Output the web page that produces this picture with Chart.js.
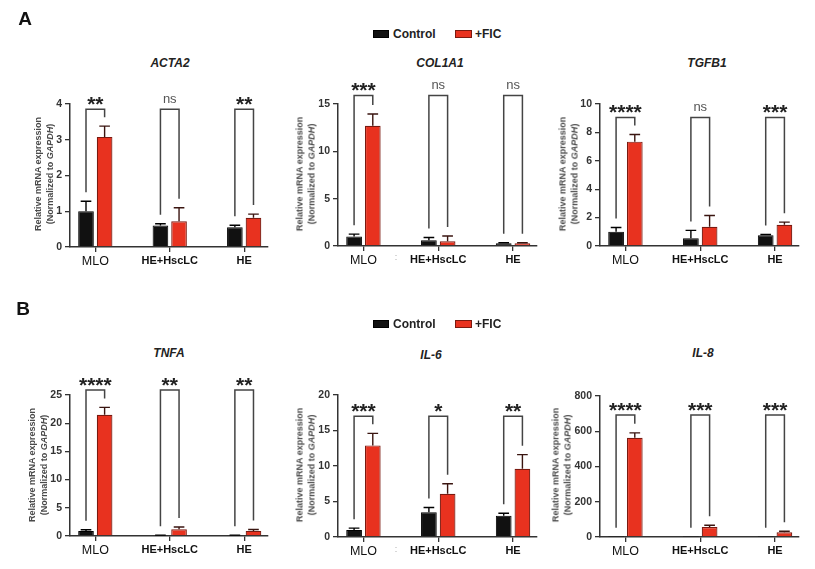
<!DOCTYPE html>
<html>
<head>
<meta charset="utf-8">
<script src="https://cdn.jsdelivr.net/npm/chart.js@4.4.1/dist/chart.umd.min.js"></script>
<style>
  body { margin: 0; background: #fff; }
  #page { position: relative; width: 815px; height: 569px; overflow: hidden; font-family: "Liberation Sans", Arial, sans-serif; }
  canvas { position: absolute; }
  .txt { position: absolute; transform: translate(-50%, -50%); line-height: 1; white-space: nowrap; }
  .letter { font-size: 19px; font-weight: bold; color: #111; }
  .gene { font-size: 12px; font-weight: bold; font-style: italic; color: #222; }
  .ytitle { position: absolute; transform: translate(-50%, -50%) rotate(-90deg); font-size: 9px; font-weight: bold; color: #4a4a4a; line-height: 11.5px; text-align: center; white-space: nowrap; }
  .legend { position: absolute; font-size: 12px; font-weight: bold; color: #222; line-height: 1; }
  .box { position: absolute; }
  .dots { font-size: 9px; color: #aaa; }
</style>
</head>
<body>
<div id="page"></div>
<script>
// groups on the x axis, shared by all six panels
const groups = ['MLO', 'HE+HscLC', 'HE'];
const seriesNames = ['Control', '+FIC'];

// ACTA2
const acta2Control = [1.0, 0.6, 0.55];
const acta2ControlErr = [0.28, 0.05, 0.06];
const acta2Fic = [3.08, 0.72, 0.82];
const acta2FicErr = [0.3, 0.38, 0.1];
const acta2Stars = ['**', 'ns', '**'];
const acta2Axis = [0, 4, 1];

// COL1A1
const col1a1Control = [1.0, 0.6, 0.3];
const col1a1ControlErr = [0.25, 0.3, 0.05];
const col1a1Fic = [12.7, 0.5, 0.3];
const col1a1FicErr = [1.25, 0.55, 0.05];
const col1a1Stars = ['***', 'ns', 'ns'];
const col1a1Axis = [0, 15, 5];

// TGFB1
const tgfb1Control = [1.0, 0.55, 0.75];
const tgfb1ControlErr = [0.3, 0.55, 0.06];
const tgfb1Fic = [7.35, 1.35, 1.5];
const tgfb1FicErr = [0.5, 0.8, 0.18];
const tgfb1Stars = ['****', 'ns', '***'];
const tgfb1Axis = [0, 10, 2];

// TNFA
const tnfaControl = [0.9, 0.1, 0.1];
const tnfaControlErr = [0.2, 0.05, 0.05];
const tnfaFic = [21.5, 1.2, 0.9];
const tnfaFicErr = [1.3, 0.4, 0.25];
const tnfaStars = ['****', '**', '**'];
const tnfaAxis = [0, 25, 5];

// IL-6
const il6Control = [1.0, 3.5, 3.0];
const il6ControlErr = [0.25, 0.65, 0.35];
const il6Fic = [12.9, 6.1, 9.6];
const il6FicErr = [1.7, 1.4, 2.0];
const il6Stars = ['***', '*', '**'];
const il6Axis = [0, 20, 5];

// IL-8
const il8Control = [1, 1, 1];
const il8ControlErr = [0, 0, 0];
const il8Fic = [563, 57, 27];
const il8FicErr = [28, 10, 6];
const il8Stars = ['****', '***', '***'];
const il8Axis = [0, 800, 200];

// height of the significance brackets, in data units
const bracketTops = [3.85, 15.9, 9.05, 25.9, 17.0, 692];

const FONT = '"Liberation Sans", Arial, sans-serif';
Chart.defaults.font.family = FONT;

const panels = [
  { gene: 'ACTA2', control: acta2Control, controlErr: acta2ControlErr, fic: acta2Fic, ficErr: acta2FicErr, stars: acta2Stars, axis: acta2Axis,
    axisX: 70, rightX: 268, topY: 104, zeroY: 247, titleX: 170, titleY: 63, yTitleX: 44, yTitleY: 174 },
  { gene: 'COL1A1', control: col1a1Control, controlErr: col1a1ControlErr, fic: col1a1Fic, ficErr: col1a1FicErr, stars: col1a1Stars, axis: col1a1Axis,
    axisX: 338, rightX: 537, topY: 104, zeroY: 246, titleX: 440, titleY: 63, yTitleX: 306, yTitleY: 174 },
  { gene: 'TGFB1', control: tgfb1Control, controlErr: tgfb1ControlErr, fic: tgfb1Fic, ficErr: tgfb1FicErr, stars: tgfb1Stars, axis: tgfb1Axis,
    axisX: 600, rightX: 799, topY: 104, zeroY: 246, titleX: 707, titleY: 63, yTitleX: 569, yTitleY: 174 },
  { gene: 'TNFA', control: tnfaControl, controlErr: tnfaControlErr, fic: tnfaFic, ficErr: tnfaFicErr, stars: tnfaStars, axis: tnfaAxis,
    axisX: 70, rightX: 268, topY: 395, zeroY: 536, titleX: 169, titleY: 353, yTitleX: 38, yTitleY: 465 },
  { gene: 'IL-6', control: il6Control, controlErr: il6ControlErr, fic: il6Fic, ficErr: il6FicErr, stars: il6Stars, axis: il6Axis,
    axisX: 338, rightX: 537, topY: 395, zeroY: 537, titleX: 431, titleY: 355, yTitleX: 306, yTitleY: 465 },
  { gene: 'IL-8', control: il8Control, controlErr: il8ControlErr, fic: il8Fic, ficErr: il8FicErr, stars: il8Stars, axis: il8Axis,
    axisX: 600, rightX: 799, topY: 396, zeroY: 537, titleX: 703, titleY: 353, yTitleX: 562, yTitleY: 465 }
];

const page = document.getElementById('page');

function addText(cls, text, x, y) {
  const el = document.createElement('div');
  el.className = 'txt ' + cls;
  el.textContent = text;
  el.style.left = x + 'px';
  el.style.top = y + 'px';
  page.appendChild(el);
  return el;
}

// Upward error bars with a cap
const errorBarsPlugin = {
  id: 'errorBars',
  afterDatasetsDraw(chart) {
    const ctx = chart.ctx;
    const yScale = chart.scales.y;
    chart.data.datasets.forEach((ds, di) => {
      const meta = chart.getDatasetMeta(di);
      meta.data.forEach((bar, i) => {
        const err = ds.errors[i];
        if (!err) return;
        const yTop = yScale.getPixelForValue(ds.data[i].y + err);
        const half = bar.width * 0.34;
        ctx.save();
        ctx.strokeStyle = ds.errorColor;
        ctx.lineWidth = 1.4;
        ctx.beginPath();
        ctx.moveTo(bar.x, bar.y);
        ctx.lineTo(bar.x, yTop);
        ctx.moveTo(bar.x - half, yTop);
        ctx.lineTo(bar.x + half, yTop);
        ctx.stroke();
        ctx.restore();
      });
    });
  }
};

// Significance brackets between Control and +FIC of each group
const bracketPlugin = {
  id: 'sigBrackets',
  afterDraw(chart, args, opts) {
    const ctx = chart.ctx;
    const yScale = chart.scales.y;
    const d0 = chart.data.datasets[0], d1 = chart.data.datasets[1];
    const m0 = chart.getDatasetMeta(0), m1 = chart.getDatasetMeta(1);
    const top = yScale.getPixelForValue(opts.top);
    ctx.save();
    opts.labels.forEach((lab, i) => {
      const x1 = m0.data[i].x, x2 = m1.data[i].x;
      const b1 = yScale.getPixelForValue(d0.data[i].y + d0.errors[i]) - 9;
      const b2 = yScale.getPixelForValue(d1.data[i].y + d1.errors[i]) - 9;
      ctx.strokeStyle = '#444';
      ctx.lineWidth = 1.5;
      ctx.beginPath();
      ctx.moveTo(x1, b1);
      ctx.lineTo(x1, top);
      ctx.lineTo(x2, top);
      ctx.lineTo(x2, b2);
      ctx.stroke();
      const cx = (x1 + x2) / 2;
      const yc = top - 10;
      ctx.textAlign = 'center';
      ctx.textBaseline = 'alphabetic';
      if (lab === 'ns') {
        ctx.font = '13px ' + FONT;
        ctx.fillStyle = '#555';
        ctx.fillText(lab, cx, yc + 3.4);
      } else {
        ctx.font = 'bold 21px ' + FONT;
        ctx.fillStyle = '#222';
        ctx.fillText(lab, cx, yc + 12);
      }
    });
    ctx.restore();
  }
};

const PAD_TOP = 30, PAD_RIGHT = 4, Y_W = 40, X_H = 24;

panels.forEach((p, idx) => {
  const canvas = document.createElement('canvas');
  const w = p.rightX - p.axisX + Y_W + PAD_RIGHT;
  const h = p.zeroY - p.topY + PAD_TOP + X_H;
  canvas.width = w;
  canvas.height = h;
  canvas.style.left = (p.axisX - Y_W) + 'px';
  canvas.style.top = (p.topY - PAD_TOP) + 'px';
  canvas.style.width = w + 'px';
  canvas.style.height = h + 'px';
  page.appendChild(canvas);

  new Chart(canvas, {
    type: 'bar',
    data: {
      datasets: [
        {
          label: seriesNames[0],
          data: p.control.map((v, i) => ({ x: i, y: v })),
          errors: p.controlErr,
          errorColor: '#000',
          backgroundColor: '#111',
          borderColor: '#000',
          borderWidth: 1
        },
        {
          label: seriesNames[1],
          data: p.fic.map((v, i) => ({ x: i, y: v })),
          errors: p.ficErr,
          errorColor: '#3a1510',
          backgroundColor: '#e8321f',
          borderColor: '#7a1a10',
          borderWidth: 1.2
        }
      ]
    },
    options: {
      responsive: false,
      animation: false,
      events: [],
      categoryPercentage: 0.5,
      barPercentage: 0.84,
      layout: { padding: { top: PAD_TOP, right: PAD_RIGHT, left: 0, bottom: 0 } },
      plugins: {
        legend: { display: false },
        tooltip: { enabled: false },
        sigBrackets: { top: bracketTops[idx], labels: p.stars }
      },
      scales: {
        x: {
          type: 'linear',
          min: -0.34,
          max: 2.32,
          offset: false,
          afterBuildTicks: s => { s.ticks = groups.map((g, i) => ({ value: i })); },
          afterFit: s => { s.height = X_H; },
          ticks: {
            callback: v => groups[v],
            autoSkip: false,
            maxRotation: 0,
            padding: 2,
            color: '#111',
            font: c => c.index === 0 ? { size: 12.5, weight: 'normal' } : { size: 11, weight: 'bold' }
          },
          grid: { drawOnChartArea: false, offset: false, tickLength: 5, color: '#333', lineWidth: 1.3 },
          border: { color: '#333', width: 1.5 }
        },
        y: {
          min: p.axis[0],
          max: p.axis[1],
          afterFit: s => { s.width = Y_W; },
          ticks: { stepSize: p.axis[2], padding: 3, color: '#333', font: { size: 10.5, weight: 'bold' } },
          grid: { drawOnChartArea: false, tickLength: 5, color: '#333', lineWidth: 1.3 },
          border: { color: '#333', width: 1.5 }
        }
      }
    },
    plugins: [errorBarsPlugin, bracketPlugin]
  });

  addText('gene', p.gene, p.titleX, p.titleY);

  const yt = document.createElement('div');
  yt.className = 'ytitle';
  yt.innerHTML = 'Relative mRNA expression<br>(Normalized to <i>GAPDH</i>)';
  yt.style.left = p.yTitleX + 'px';
  yt.style.top = p.yTitleY + 'px';
  page.appendChild(yt);
});

// panel letters
addText('letter', 'A', 25, 18);
addText('letter', 'B', 23, 308);

// small marks next to the middle panels' group labels
addText('dots', ':', 396, 257);
addText('dots', ':', 396, 549);

// legends
function addLegend(y) {
  const items = [
    { name: seriesNames[0], boxX: 373, boxW: 16, fill: '#111', edge: '#000', textX: 393 },
    { name: seriesNames[1], boxX: 455, boxW: 17, fill: '#e8321f', edge: '#7a1a10', textX: 475 }
  ];
  items.forEach(it => {
    const b = document.createElement('div');
    b.className = 'box';
    b.style.left = it.boxX + 'px';
    b.style.top = (y - 4) + 'px';
    b.style.width = (it.boxW - 2) + 'px';
    b.style.height = '6px';
    b.style.background = it.fill;
    b.style.border = '1px solid ' + it.edge;
    page.appendChild(b);
    const t = document.createElement('div');
    t.className = 'legend';
    t.textContent = it.name;
    t.style.left = it.textX + 'px';
    t.style.top = (y - 6) + 'px';
    page.appendChild(t);
  });
}
addLegend(34);
addLegend(324);
</script>
</body>
</html>
